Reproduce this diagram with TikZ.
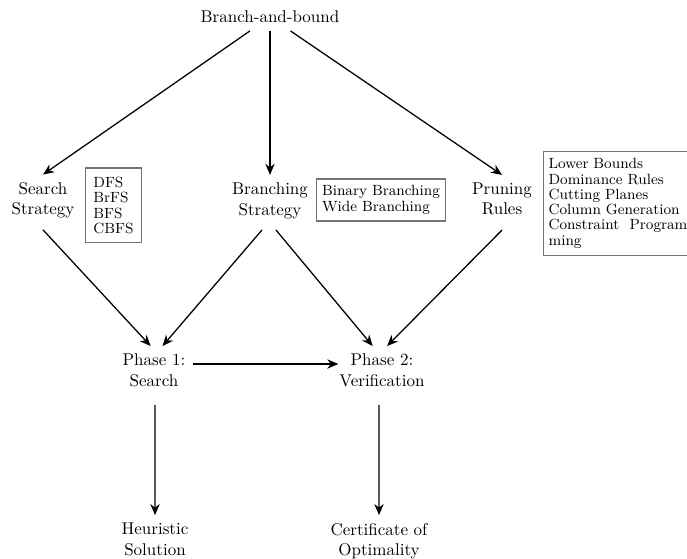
\documentclass[tikz,border=0pt]{standalone}
\usetikzlibrary{arrows.meta}
\begin{document}
\begin{tikzpicture}[x=0.5882pt,y=-0.5882pt,
  stage/.style={align=center, inner sep=4.5pt, font=\fontsize{10}{12}\selectfont},
  listbox/.style={draw=black!55, line width=0.6pt, inner sep=3pt, align=left,
    font=\fontsize{8.7}{9}\selectfont},
  arr/.style={-{Stealth[length=6.5pt,width=5.5pt]}, line width=0.75pt}]
\useasboundingbox (0,0) rectangle (687,559);

% top node
\node[stage] (bb) at (270,17) {Branch-and-bound};

% the three ingredients
\node[stage] (ss) at (43,200.5) {Search\\Strategy};
\node[stage] (bs) at (270,200.7) {Branching\\Strategy};
\node[stage] (pr) at (502,199.1) {Pruning\\Rules};

% option lists
\node[listbox, minimum width=33.5pt, minimum height=44.1pt] (sl) at (113.5,205.5)
  {DFS\\BrFS\\BFS\\CBFS};
\node[listbox, minimum width=74.1pt, minimum height=24.7pt] (bl) at (381,200)
  {Binary Branching\\Wide Branching};
\node[listbox, text width=81.6pt, minimum height=61pt, anchor=north west] (pl) at (543,151)
  {Lower Bounds\\Dominance Rules\\Cutting Planes\\Column Generation\\Constraint\hfill Program\\ming};

% phases
\node[stage] (p1) at (154,370.3) {Phase 1:\\Search};
\node[stage] (p2) at (382,370.3) {Phase 2:\\Verification};

% outcomes
\node[stage] (hs) at (155,539.3) {Heuristic\\Solution};
\node[stage] (co) at (379,541) {Certificate of\\Optimality};

% connectors
\draw[arr] (bb) -- (ss.north);
\draw[arr] (bb) -- (bs.north);
\draw[arr] (bb) -- (pr.north);
\draw[arr] ([yshift=-2pt]ss.south) -- ([xshift=-2pt]p1.north);
\draw[arr] ([xshift=-4.7pt,yshift=-2pt]bs.south) -- ([xshift=5pt]p1.north);
\draw[arr] ([xshift=3.5pt,yshift=-2pt]bs.south) -- ([xshift=-5.5pt]p2.north);
\draw[arr] ([yshift=-4pt]pr.south) -- ([xshift=3pt]p2.north);
\draw[arr] ([yshift=3.7pt]p1.east) -- ([xshift=4pt,yshift=3.7pt]p2.west);
\draw[arr] ([xshift=0.6pt,yshift=-6pt]p1.south) -- (hs.north);
\draw[arr] ([xshift=-1.76pt,yshift=-6pt]p2.south) -- (co.north);
\end{tikzpicture}
\end{document}
